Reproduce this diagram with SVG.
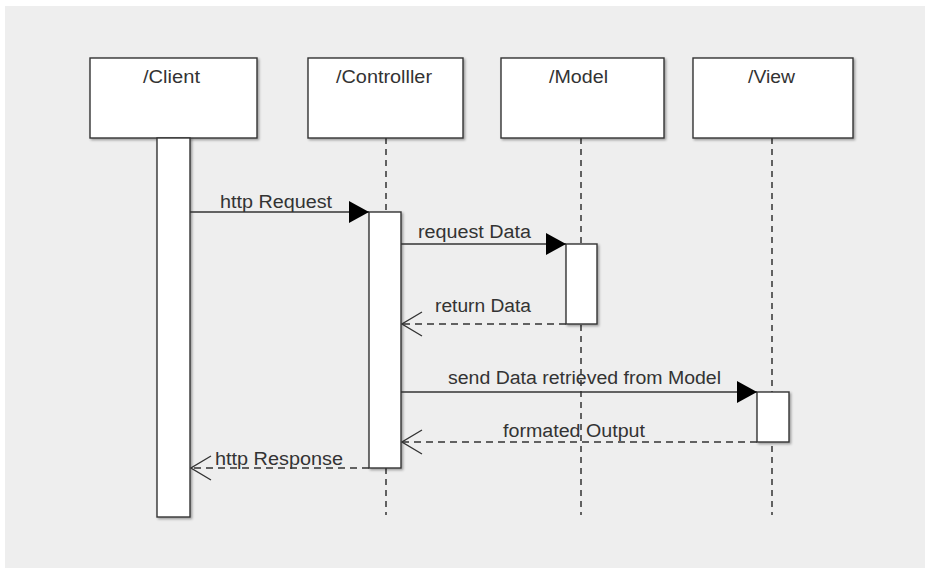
<svg xmlns="http://www.w3.org/2000/svg" width="925" height="568" viewBox="0 0 925 568">
<defs>
<filter id="sh" x="-10%" y="-10%" width="130%" height="130%">
<feDropShadow dx="1.5" dy="1.5" stdDeviation="1" flood-color="#000" flood-opacity="0.35"/>
</filter>
<marker id="fill" viewBox="0 0 20 22" refX="20" refY="11" markerWidth="20" markerHeight="22" markerUnits="userSpaceOnUse" orient="auto">
<path d="M0,0 L20,11 L0,22 Z" fill="#000"/>
</marker>
<marker id="open" viewBox="0 0 22 26" refX="21" refY="13" markerWidth="22" markerHeight="26" markerUnits="userSpaceOnUse" orient="auto">
<path d="M1,1 L21,13 L1,25" fill="none" stroke="#333" stroke-width="1.3"/>
</marker>
</defs>
<style>
.box{fill:#fff;stroke:#333;stroke-width:1.4;filter:url(#sh)}
.act{fill:#fff;stroke:#333;stroke-width:1.4;filter:url(#sh)}
.life{stroke:#333;stroke-width:1.5;stroke-dasharray:6 5;fill:none}
.msg{stroke:#333;stroke-width:1.3;fill:none}
.ret{stroke:#333;stroke-width:1.3;fill:none;stroke-dasharray:7 5}
text{font-family:"Liberation Sans",Arial,sans-serif;font-size:18px;fill:#333}
</style>
<rect x="0" y="0" width="925" height="568" fill="#fff"/>
<rect x="5" y="6" width="920" height="562" fill="#eeeeee"/>
<g id="lifelines">
<line class="life" x1="386" y1="138" x2="386" y2="515"/>
<line class="life" x1="581" y1="138" x2="581" y2="515"/>
<line class="life" x1="772" y1="138" x2="772" y2="515"/>
</g>
<g id="client">
<rect class="box" x="90" y="58" width="167" height="80"/>
<text x="143" y="83" textLength="57" lengthAdjust="spacingAndGlyphs">/Client</text>
<rect class="act" x="157" y="138" width="33" height="379"/>
</g>
<g id="controller">
<rect class="box" x="308" y="58" width="155" height="80"/>
<text x="336" y="83" textLength="96" lengthAdjust="spacingAndGlyphs">/Controlller</text>
<rect class="act" x="369" y="212" width="32" height="256"/>
</g>
<g id="model">
<rect class="box" x="501" y="58" width="163" height="80"/>
<text x="549" y="83" textLength="59" lengthAdjust="spacingAndGlyphs">/Model</text>
<rect class="act" x="566" y="244" width="31" height="80"/>
</g>
<g id="view">
<rect class="box" x="693" y="58" width="160" height="80"/>
<text x="748" y="83" textLength="47" lengthAdjust="spacingAndGlyphs">/View</text>
<rect class="act" x="757" y="392" width="32" height="50"/>
</g>
<g id="connectors">
<line class="msg" x1="190" y1="212" x2="369" y2="212" marker-end="url(#fill)"/>
<text x="220" y="208" textLength="112" lengthAdjust="spacingAndGlyphs">http Request</text>
<line class="msg" x1="401" y1="244" x2="566" y2="244" marker-end="url(#fill)"/>
<text x="418" y="238" textLength="113" lengthAdjust="spacingAndGlyphs">request Data</text>
<line class="ret" x1="566" y1="324" x2="402" y2="324" marker-end="url(#open)"/>
<text x="435" y="312" textLength="96" lengthAdjust="spacingAndGlyphs">return Data</text>
<line class="msg" x1="401" y1="392" x2="757" y2="392" marker-end="url(#fill)"/>
<text x="448" y="384" textLength="273" lengthAdjust="spacingAndGlyphs">send Data retrieved from Model</text>
<line class="ret" x1="757" y1="442" x2="402" y2="442" marker-end="url(#open)"/>
<text x="503" y="437" textLength="142" lengthAdjust="spacingAndGlyphs">formated Output</text>
<line class="ret" x1="369" y1="468" x2="191" y2="468" marker-end="url(#open)"/>
<text x="215" y="465" textLength="128" lengthAdjust="spacingAndGlyphs">http Response</text>
</g>
</svg>
